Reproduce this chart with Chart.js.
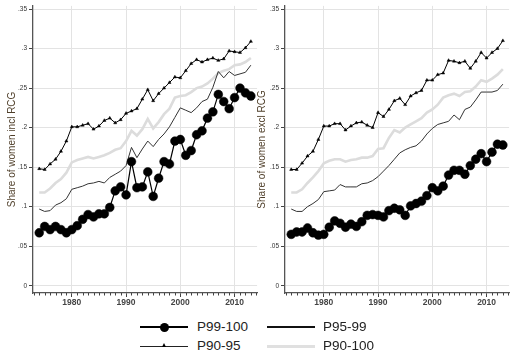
<!DOCTYPE html>
<html>
<head>
<meta charset="utf-8">
<script src="https://cdn.jsdelivr.net/npm/chart.js@4.4.1/dist/chart.umd.min.js"></script>
<style>
  html, body { margin:0; padding:0; background:#fff; }
  body { width:520px; height:362px; position:relative; overflow:hidden; font-family:"Liberation Sans", Arial, sans-serif; }
  canvas { position:absolute; top:0; }
  #c1 { left:0; }
  #c2 { left:252px; }
  .ln { position:absolute; }
  .lt { position:absolute; font-size:13.5px; color:#222; line-height:16px; transform:translateY(-50%); white-space:nowrap; }
</style>
</head>
<body>
<canvas id="c1" width="262" height="312"></canvas>
<canvas id="c2" width="262" height="312"></canvas>

<div class="ln" style="left:140px;top:326px;width:48px;height:2px;background:#000"></div>
<div class="ln" style="left:159.5px;top:322.5px;width:9px;height:9px;border-radius:50%;background:#000"></div>
<div class="lt" style="left:197px;top:327px">P99-100</div>

<div class="ln" style="left:267px;top:326px;width:48px;height:2px;background:#111"></div>
<div class="lt" style="left:323px;top:327px">P95-99</div>

<div class="ln" style="left:140px;top:345.5px;width:48px;height:1px;background:#222"></div>
<div class="ln" style="left:162px;top:343px;width:0;height:0;border-left:2px solid transparent;border-right:2px solid transparent;border-bottom:4px solid #000"></div>
<div class="lt" style="left:197px;top:346px">P90-95</div>

<div class="ln" style="left:267px;top:344.5px;width:48px;height:3px;background:#e0e0e0"></div>
<div class="lt" style="left:323px;top:346px">P90-100</div>

<script>
// ---- data ----
const years = [1974,1975,1976,1977,1978,1979,1980,1981,1982,1983,1984,1985,1986,1987,1988,1989,1990,1991,1992,1993,1994,1995,1996,1997,1998,1999,2000,2001,2002,2003,2004,2005,2006,2007,2008,2009,2010,2011,2012,2013];

const seriesNames = ["P99-100","P95-99","P90-95","P90-100"];

// Left panel: incl RCG
const p99_100_incl = [0.067,0.075,0.071,0.075,0.071,0.067,0.071,0.076,0.084,0.090,0.087,0.091,0.091,0.099,0.120,0.125,0.115,0.157,0.124,0.125,0.144,0.113,0.136,0.157,0.154,0.183,0.185,0.165,0.171,0.191,0.196,0.212,0.220,0.242,0.233,0.224,0.238,0.250,0.244,0.240];
const p95_99_incl  = [0.097,0.094,0.095,0.102,0.105,0.110,0.122,0.124,0.126,0.129,0.130,0.132,0.130,0.137,0.141,0.145,0.152,0.175,0.162,0.173,0.183,0.176,0.185,0.192,0.201,0.213,0.225,0.222,0.219,0.225,0.233,0.236,0.251,0.271,0.263,0.271,0.266,0.268,0.270,0.279];
const p90_95_incl  = [0.148,0.147,0.154,0.160,0.170,0.183,0.201,0.201,0.203,0.205,0.198,0.202,0.209,0.212,0.206,0.210,0.218,0.221,0.224,0.236,0.248,0.234,0.243,0.250,0.257,0.264,0.263,0.272,0.281,0.286,0.283,0.286,0.288,0.285,0.287,0.297,0.296,0.295,0.301,0.309];
const p90_100_incl = [0.118,0.118,0.123,0.130,0.135,0.143,0.156,0.159,0.161,0.163,0.161,0.163,0.165,0.168,0.172,0.174,0.183,0.196,0.190,0.198,0.211,0.199,0.207,0.217,0.224,0.238,0.240,0.241,0.245,0.250,0.252,0.256,0.262,0.269,0.272,0.274,0.279,0.280,0.283,0.288];

// Right panel: excl RCG
const p99_100_excl = [0.065,0.068,0.068,0.073,0.067,0.064,0.065,0.074,0.082,0.079,0.074,0.078,0.075,0.081,0.089,0.090,0.089,0.087,0.095,0.098,0.096,0.089,0.101,0.104,0.107,0.114,0.124,0.120,0.126,0.140,0.146,0.146,0.141,0.152,0.160,0.167,0.157,0.169,0.179,0.178];
const p95_99_excl  = [0.097,0.094,0.094,0.100,0.104,0.109,0.119,0.120,0.121,0.128,0.125,0.125,0.125,0.129,0.130,0.133,0.138,0.145,0.152,0.160,0.168,0.172,0.175,0.177,0.183,0.192,0.199,0.204,0.206,0.208,0.216,0.210,0.223,0.226,0.235,0.245,0.245,0.245,0.247,0.255];
const p90_95_excl  = [0.147,0.147,0.155,0.164,0.170,0.185,0.202,0.202,0.205,0.205,0.197,0.202,0.206,0.207,0.203,0.200,0.219,0.214,0.223,0.234,0.237,0.229,0.240,0.244,0.247,0.260,0.260,0.267,0.269,0.285,0.284,0.282,0.284,0.275,0.284,0.295,0.288,0.295,0.300,0.310];
const p90_100_excl = [0.118,0.118,0.122,0.130,0.137,0.145,0.155,0.158,0.160,0.160,0.157,0.159,0.160,0.162,0.162,0.164,0.173,0.174,0.187,0.197,0.194,0.200,0.204,0.208,0.212,0.219,0.223,0.229,0.238,0.241,0.243,0.240,0.245,0.246,0.252,0.260,0.258,0.262,0.267,0.274];

const yTicks = [0,0.05,0.10,0.15,0.20,0.25,0.30,0.35];
const xMajorTicks = [1980,1990,2000,2010];
const xMinorTicks = [1973,1974,1975,1976,1977,1978,1979,1981,1982,1983,1984,1985,1986,1987,1988,1989,1991,1992,1993,1994,1995,1996,1997,1998,1999,2001,2002,2003,2004,2005,2006,2007,2008,2009,2011,2012,2013,2014];

const titleLeft = "Share of women incl RCG";
const titleRight = "Share of women excl RCG";

// ---- chart building ----
function pts(arr){ return years.map((yr,i)=>({x:yr, y:arr[i]})); }

const minorTickPlugin = {
  id:'minorTicks',
  afterDraw(chart){
    const xs = chart.scales.x, ctx = chart.ctx, b = chart.chartArea.bottom;
    ctx.save();
    ctx.strokeStyle = '#444';
    ctx.lineWidth = 1;
    xMinorTicks.forEach(v=>{
      const px = Math.round(xs.getPixelForValue(v)) + 0.5;
      ctx.beginPath(); ctx.moveTo(px, b); ctx.lineTo(px, b+2.5); ctx.stroke();
    });
    ctx.restore();
  }
};

function makeChart(id, s99, s95, s9095, s90, title, titlePad){
  return new Chart(document.getElementById(id), {
    type:'line',
    data:{ datasets:[
      { label:seriesNames[0], data:pts(s99), borderColor:'#000', backgroundColor:'#000', borderWidth:1.2,
        pointStyle:'circle', pointRadius:4.4, pointBorderWidth:0.5, pointBackgroundColor:'#000', pointBorderColor:'#000', tension:0 },
      { label:seriesNames[1], data:pts(s95), borderColor:'#333', borderWidth:1, pointRadius:0, tension:0 },
      { label:seriesNames[2], data:pts(s9095), borderColor:'#000', borderWidth:1, pointStyle:'triangle', pointRadius:1.8,
        pointBackgroundColor:'#000', pointBorderColor:'#000', pointBorderWidth:0.5, tension:0 },
      { label:seriesNames[3], data:pts(s90), borderColor:'#dcdcdc', borderWidth:2.6, pointRadius:0, tension:0 }
    ]},
    options:{
      responsive:false, animation:false, devicePixelRatio:1,
      layout:{ padding:{left:0,right:4,top:5,bottom:0} },
      plugins:{ legend:{display:false}, tooltip:{enabled:false} },
      scales:{
        x:{ type:'linear', min:1972.85, max:2014.15,
            afterBuildTicks:(s)=>{ s.ticks = xMajorTicks.map(v=>({value:v})); },
            afterFit:(s)=>{ s.height = 19; },
            grid:{ color:'#e3e3e3', lineWidth:1, tickLength:4, tickColor:'#444', drawTicks:true },
            border:{ color:'#555', width:1.3 },
            ticks:{ font:{family:'"Liberation Sans", Arial, sans-serif', size:8.5, weight:'bold'}, color:'#444', padding:1,
                    maxRotation:0, autoSkip:false, callback:(v)=>String(v) } },
        y:{ type:'linear', min:-0.0092, max:0.354,
            afterBuildTicks:(s)=>{ s.ticks = yTicks.map(v=>({value:v})); },
            afterFit:(s)=>{ s.width = 33; },
            grid:{ color:'#e3e3e3', lineWidth:1, tickLength:4, tickColor:'#444' },
            border:{ color:'#555', width:1.3 },
            ticks:{ font:{family:'"Liberation Sans", Arial, sans-serif', size:6.5}, color:'#333', padding:2, autoSkip:false,
                    callback:(v)=>{ const n = Math.round(v*100)/100; return n===0 ? '0' : String(n).replace(/^0\./,'.'); } },
            title:{ display:true, text:title, color:'#4f3f2a', font:{family:'"Liberation Sans", Arial, sans-serif', size:10},
                    padding:{top:titlePad, bottom:0} } }
      }
    },
    plugins:[minorTickPlugin]
  });
}

makeChart('c1', p99_100_incl, p95_99_incl, p90_95_incl, p90_100_incl, titleLeft, 6);
makeChart('c2', p99_100_excl, p95_99_excl, p90_95_excl, p90_100_excl, titleRight, 4);
</script>
</body>
</html>
